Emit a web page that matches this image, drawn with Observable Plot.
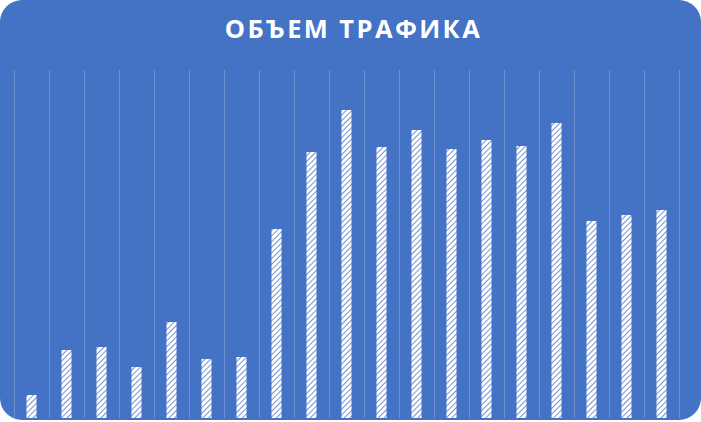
<!DOCTYPE html>
<html>
<head>
<meta charset="utf-8">
<script src="https://cdn.jsdelivr.net/npm/d3@7"></script>
<script src="https://cdn.jsdelivr.net/npm/@observablehq/plot@0.6"></script>
<style>
  html, body { margin: 0; padding: 0; background: #ffffff; }
  #card {
    width: 701px; height: 420px; background: #4472C4;
    border-radius: 22px; overflow: hidden; position: relative;
  }
  #title {
    height: 60px; line-height: 56px; text-align: center; color: #ffffff;
    font-family: "Open Sans", "DejaVu Sans", sans-serif; font-weight: 700;
    font-size: 25.5px; letter-spacing: 2.4px; padding-left: 6px;
  }
  #chart svg { display: block; }
</style>
</head>
<body>
<div id="card">
  <div id="title">ОБЪЕМ ТРАФИКА</div>
  <div id="chart"></div>
</div>
<script>
const categories = ["1","2","3","4","5","6","7","8","9","10","11","12","13","14","15","16","17","18","19"];
const traffic = [23, 68, 71, 51, 96, 59, 61, 189, 266, 308, 271, 288, 269, 278, 272, 295, 197, 203, 208];

const data = categories.map((c, i) => ({ category: c, index: i, value: traffic[i] }));
const edges = d3.range(categories.length + 1);

const chart = Plot.plot({
  width: 701,
  height: 360,
  marginTop: 10,
  marginBottom: 2,
  marginLeft: 14,
  marginRight: 22,
  style: { background: "transparent", overflow: "visible" },
  x: { domain: [0, categories.length], axis: null },
  y: { domain: [0, 348], axis: null },
  marks: [
    Plot.ruleX(edges, { x: d => d, stroke: "#ffffff", strokeOpacity: 0.22, strokeWidth: 1 }),
    Plot.rectY(data, {
      x1: d => d.index, x2: d => d.index + 1, y: "value",
      insetLeft: 12.5, insetRight: 12.5,
      fill: "url(#hatch)", title: d => d.category
    })
  ]
});

const ns = "http://www.w3.org/2000/svg";
const defs = document.createElementNS(ns, "defs");
const pat = document.createElementNS(ns, "pattern");
pat.setAttribute("id", "hatch");
pat.setAttribute("patternUnits", "userSpaceOnUse");
pat.setAttribute("width", "4");
pat.setAttribute("height", "4");
pat.setAttribute("patternTransform", "rotate(45)");
const bg = document.createElementNS(ns, "rect");
bg.setAttribute("width", "4"); bg.setAttribute("height", "4"); bg.setAttribute("fill", "#ffffff");
const ln = document.createElementNS(ns, "line");
ln.setAttribute("x1", "0"); ln.setAttribute("y1", "0");
ln.setAttribute("x2", "0"); ln.setAttribute("y2", "4");
ln.setAttribute("stroke", "#7393d2"); ln.setAttribute("stroke-width", "2");
pat.appendChild(bg); pat.appendChild(ln); defs.appendChild(pat);
chart.insertBefore(defs, chart.firstChild);

document.getElementById("chart").appendChild(chart);
</script>
</body>
</html>
